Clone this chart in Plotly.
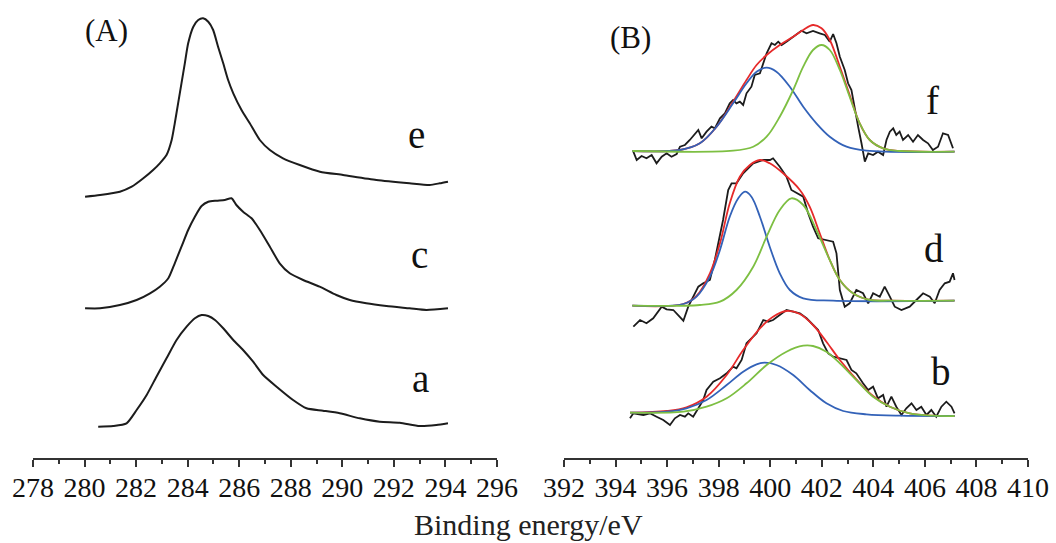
import plotly.graph_objects as go
from plotly.subplots import make_subplots

# ---------------- Panel A (C 1s) ----------------
e_x = [280.02, 280.60, 281.37, 281.83, 282.28, 282.66, 282.92, 283.18, 283.38, 283.50, 283.63, 283.76,
       283.89, 284.02, 284.22, 284.41, 284.60, 284.80, 284.99, 285.18, 285.38, 285.57, 285.77, 286.09,
       286.41, 286.80, 287.19, 287.70, 288.35, 289.13, 290.03, 291.32, 292.61, 293.39, 293.78, 294.10]
e_y = [261.3, 263, 266.3, 271.3, 279.7, 288, 294.7, 303, 318, 334.7, 354.7, 374.7,
       394.7, 414.7, 431.3, 438, 439.7, 436.3, 428, 411.3, 394.7, 378, 364.7, 348,
       334.7, 318, 308, 299.7, 293, 286.3, 283, 278, 274.7, 273, 274.7, 276.3]

c_x = [280.02, 280.60, 281.37, 282.02, 282.54, 282.92, 283.25, 283.50, 283.76, 284.02, 284.28, 284.54,
       284.80, 285.12, 285.44, 285.70, 285.89, 286.15, 286.48, 286.80, 287.19, 287.57, 287.96, 288.48,
       289.12, 289.77, 290.29, 290.93, 291.71, 292.61, 293.26, 294.10]
c_y = [149.7, 149.7, 153, 158, 164.7, 171.3, 179.7, 194.7, 211.3, 228, 241.3, 252,
       256.3, 257.3, 258, 259.7, 253, 246.3, 239.7, 228, 211.3, 194.7, 184.7, 178,
       171.3, 163, 158, 154.7, 152, 149.7, 148, 149.7]

a_x = [280.53, 281.11, 281.63, 282.02, 282.41, 282.79, 283.18, 283.57, 283.96, 284.28, 284.54, 284.80,
       285.06, 285.38, 285.77, 286.15, 286.54, 286.93, 287.45, 288.09, 288.61, 289.25, 289.90, 290.68,
       291.45, 292.23, 293.00, 293.65, 294.10]
a_y = [31.3, 32, 34.7, 48, 63, 81.3, 99.7, 118, 131.3, 139.7, 143, 142,
       138, 129.7, 118, 108, 96.3, 83, 71.3, 58, 49.7, 47.3, 44.7, 39.7,
       36.3, 35.3, 32, 33, 34.7]

# ---------------- Panel B (N 1s) ----------------
f_x = [394.69, 394.82, 395.01, 395.20, 395.40, 395.59, 395.79, 395.98, 396.17, 396.37, 396.50, 396.69,
       396.88, 397.08, 397.21, 397.34, 397.53, 397.72, 397.85, 398.05, 398.24, 398.43, 398.56, 398.69,
       398.82, 398.95, 399.08, 399.27, 399.40, 399.60, 399.73, 399.86, 400.05, 400.18, 400.31, 400.44,
       400.63, 400.82, 401.02, 401.21, 401.41, 401.66, 401.92, 402.12, 402.31, 402.44, 402.57, 402.70,
       402.89, 403.02, 403.15, 403.28, 403.41, 403.54, 403.67, 403.80, 403.99, 404.18, 404.38, 404.51,
       404.64, 404.77, 404.89, 405.02, 405.15, 405.35, 405.54, 405.73, 405.93, 406.12, 406.31, 406.51,
       406.70, 406.90, 407.09]
f_y = [306.3, 298, 302, 299.7, 303, 294.7, 301.3, 304.7, 301.3, 304, 311.3, 313,
       318, 324.7, 328, 319.7, 326.3, 331.3, 329.7, 339.7, 344.7, 354.7, 358, 354.7,
       356.3, 353, 364.7, 371.3, 383, 384.7, 394.7, 404.7, 414.7, 413, 416.3, 413,
       416.3, 419.7, 423, 427.3, 424.7, 427, 424.7, 423, 416.3, 424, 414.7, 401.3,
       388, 374.7, 368, 348, 331.3, 314.7, 296.3, 304.7, 303, 306.3, 303, 318,
       326.3, 329.7, 323, 326.3, 318, 323, 316.3, 323, 318, 314.7, 308, 311.3,
       324.7, 323, 309.7]
f_blue_x = [394.65, 396.50, 397.27, 397.92, 398.56, 399.08, 399.47, 399.86, 400.24, 400.76, 401.28, 401.79,
            402.31, 402.96, 403.73, 407.15]
f_blue_y = [307, 308, 314.7, 331.3, 354.7, 374.7, 386.3, 390.3, 386.3, 371.3, 351.3, 334.7,
            321.3, 311.3, 307.3, 306.3]
f_green_x = [394.65, 398.56, 399.34, 399.86, 400.37, 400.89, 401.28, 401.66, 401.99, 402.31, 402.70, 403.08,
             403.47, 403.86, 404.38, 405.02, 407.15]
f_green_y = [307, 307.3, 311.3, 321.3, 341.3, 368, 391.3, 408, 413, 408, 388, 361.3,
             334.7, 318, 309.7, 307, 306.3]
f_red_x = [394.65, 396.50, 397.27, 397.92, 398.56, 399.08, 399.47, 399.86, 400.37, 400.89, 401.28, 401.66,
           401.99, 402.31, 402.70, 403.08, 403.47, 403.86, 404.38, 405.02, 407.15]
f_red_y = [307, 308, 314.7, 331.3, 356.3, 378, 393, 403, 413, 421.3, 428, 433,
           429.7, 418, 391.3, 363, 334.7, 318, 309.7, 307, 306.3]

d_x = [394.69, 394.95, 395.20, 395.46, 395.79, 395.98, 396.24, 396.50, 396.63, 396.82, 397.01, 397.21,
       397.40, 397.66, 397.85, 398.05, 398.17, 398.37, 398.50, 398.69, 398.95, 399.34, 399.73, 399.99,
       400.11, 400.37, 400.63, 400.82, 401.02, 401.28, 401.47, 401.66, 401.86, 402.18, 402.44, 402.57,
       402.63, 402.70, 402.89, 403.08, 403.34, 403.60, 403.80, 403.99, 404.25, 404.44, 404.64, 404.83,
       405.09, 405.41, 405.67, 405.93, 406.19, 406.38, 406.57, 406.77, 406.96, 407.09, 407.15]
d_y = [131.3, 138, 134.7, 139.7, 151.3, 148.7, 148, 141.3, 137.3, 151.3, 161.3, 171.3,
       174.7, 178, 198, 221.3, 238, 268, 274.7, 274.7, 284.7, 294.7, 298, 298,
       299.7, 291.3, 281.3, 268, 264.7, 261.3, 244.7, 231.3, 219.7, 218, 216.3, 204.7,
       184.7, 168, 151.3, 154.7, 168, 164.7, 154.7, 164.7, 161.3, 171.3, 161.3, 151.3,
       148, 151.3, 158, 164.7, 161.3, 154.7, 168, 174.7, 176.3, 184.7, 178]
d_blue_x = [394.65, 396.63, 397.14, 397.66, 398.05, 398.43, 398.76, 399.02, 399.27, 399.60, 399.98, 400.37,
            400.76, 401.28, 402.44, 407.15]
d_blue_y = [152.3, 154, 161.3, 181.3, 208, 241.3, 259.7, 266.3, 261.3, 241.3, 211.3, 184.7,
            168, 159.7, 157.3, 157.3]
d_green_x = [394.65, 397.27, 398.05, 398.69, 399.34, 399.86, 400.37, 400.82, 401.28, 401.79, 402.31, 402.70,
             403.21, 403.86, 404.64, 407.15]
d_green_y = [152.3, 153, 156.3, 168, 191.3, 221.3, 248, 259.7, 253, 228, 198, 178,
             164.7, 158, 157.3, 157.3]
d_red_x = [394.65, 396.63, 397.14, 397.66, 398.05, 398.43, 398.82, 399.21, 399.60, 399.98, 400.50, 401.15,
           401.53, 401.92, 402.31, 402.70, 403.21, 403.86, 404.64, 407.15]
d_red_y = [152.3, 154, 162, 184.7, 214.7, 254.7, 281.3, 293, 298, 294.7, 284.7, 268,
           251.3, 224.7, 198, 178, 164.7, 158, 157.3, 157.3]

b_x = [394.56, 394.69, 395.08, 395.33, 395.59, 395.85, 396.11, 396.30, 396.50, 396.69, 396.82, 397.01,
       397.21, 397.40, 397.53, 397.79, 398.05, 398.31, 398.56, 398.69, 398.89, 399.08, 399.27, 399.47,
       399.73, 399.92, 400.11, 400.37, 400.63, 400.89, 401.15, 401.41, 401.66, 401.86, 402.05, 402.25,
       402.44, 402.70, 402.96, 403.15, 403.34, 403.60, 403.80, 403.99, 404.18, 404.38, 404.51, 404.70,
       404.89, 405.09, 405.28, 405.48, 405.67, 405.86, 406.06, 406.25, 406.44, 406.64, 406.83, 407.03,
       407.15]
b_y = [39.7, 44.7, 43, 44.7, 41.3, 38, 33, 39.7, 43, 41.3, 44.7, 41.3,
       49.7, 58, 68, 76.3, 79.7, 84.7, 91.3, 89.7, 98, 114.7, 119.7, 124.7,
       138, 136.3, 138, 143, 148, 146.3, 144.7, 139.7, 133, 128, 114.7, 104.7,
       101.3, 99.7, 98, 88, 84.7, 74.7, 68, 71.3, 59.7, 63, 51.3, 61.3,
       51.3, 43, 49.7, 54.7, 48, 51.3, 43, 48, 41.3, 51.3, 56.3, 51.3,
       44.7]
b_blue_x = [394.56, 395.98, 396.75, 397.53, 398.31, 398.95, 399.47, 399.79, 400.24, 400.89, 401.53, 402.18,
            402.83, 403.73, 405.02, 407.15]
b_blue_y = [45.3, 46.3, 49.7, 58, 73, 86.3, 93.7, 95.3, 93, 83, 68, 54.7,
            47, 43.7, 42.3, 42]
b_green_x = [394.56, 396.63, 397.53, 398.31, 399.08, 399.86, 400.63, 401.28, 401.66, 402.18, 402.70, 403.34,
             403.99, 404.64, 405.41, 406.31, 407.15]
b_green_y = [45.3, 46.3, 51.3, 59.7, 74.7, 93, 106.3, 112.3, 112, 106.3, 94.7, 78,
             61.3, 51.3, 44.7, 42.3, 42]
b_red_x = [394.56, 395.98, 396.75, 397.53, 398.31, 398.95, 399.60, 400.11, 400.63, 401.15, 401.66, 402.18,
           402.70, 403.34, 403.99, 404.64, 405.41, 406.31, 407.15]
b_red_y = [45.3, 47, 50.7, 61.3, 83, 108, 129.7, 141.3, 147, 144, 133, 116.3,
           98, 78.7, 62, 51.3, 44.7, 42.3, 42]

tick_vals_a = [278, 280, 282, 284, 286, 288, 290, 292, 294, 296]
tick_vals_b = [392, 394, 396, 398, 400, 402, 404, 406, 408, 410]

labels_a = ["e", "c", "a"]
labels_a_x = [292.88, 293.0, 293.04]
labels_a_y = [324, 204, 80]
labels_b = ["f", "d", "b"]
labels_b_x = [406.30, 406.34, 406.61]
labels_b_y = [358, 210, 87]

BLACK = "#1c1c1c"
RED = "#e62a2a"
BLUE = "#3362b8"
GREEN = "#7dbf42"
FONT = "Liberation Serif"

fig = make_subplots(rows=1, cols=2)

for xs, ys in [(e_x, e_y), (c_x, c_y), (a_x, a_y)]:
    fig.add_trace(go.Scatter(x=xs, y=ys, mode="lines",
                             line=dict(color=BLACK, width=2, shape="spline", smoothing=0.6),
                             showlegend=False, hoverinfo="skip"), row=1, col=1)

for raw, red, blue, green in [
    ((f_x, f_y), (f_red_x, f_red_y), (f_blue_x, f_blue_y), (f_green_x, f_green_y)),
    ((d_x, d_y), (d_red_x, d_red_y), (d_blue_x, d_blue_y), (d_green_x, d_green_y)),
    ((b_x, b_y), (b_red_x, b_red_y), (b_blue_x, b_blue_y), (b_green_x, b_green_y)),
]:
    fig.add_trace(go.Scatter(x=raw[0], y=raw[1], mode="lines",
                             line=dict(color=BLACK, width=1.8),
                             showlegend=False, hoverinfo="skip"), row=1, col=2)
    for (xs, ys), col in [(red, RED), (blue, BLUE), (green, GREEN)]:
        fig.add_trace(go.Scatter(x=xs, y=ys, mode="lines",
                                 line=dict(color=col, width=1.8, shape="spline", smoothing=1.0),
                                 showlegend=False, hoverinfo="skip"), row=1, col=2)

axis_common = dict(
    showline=True, linecolor="#333333", linewidth=1.5, mirror=False,
    ticks="outside", ticklen=7, tickwidth=1.5, tickcolor="#333333",
    showgrid=False, zeroline=False, automargin=False, tickangle=0,
    ticklabelstandoff=-3,
    tickfont=dict(family=FONT, size=28, color="#111111"),
    minor=dict(ticks="outside", ticklen=4, tickwidth=1.5, tickcolor="#333333", dtick=1, showgrid=False),
)
fig.update_xaxes(range=[278, 296], tickvals=tick_vals_a, domain=[0.03125, 0.4706], row=1, col=1, **axis_common)
fig.update_xaxes(range=[392, 410], tickvals=tick_vals_b, domain=[0.5341, 0.9735], row=1, col=2, **axis_common)
fig.update_yaxes(range=[0, 458], visible=False, showgrid=False, zeroline=False, automargin=False)

for t, x, y in zip(labels_a, labels_a_x, labels_a_y):
    fig.add_annotation(x=x, y=y, xref="x", yref="y", text=t, showarrow=False,
                       xanchor="center", yanchor="middle",
                       font=dict(family=FONT, size=39, color="#111111"))
for t, x, y in zip(labels_b, labels_b_x, labels_b_y):
    fig.add_annotation(x=x, y=y, xref="x2", yref="y2", text=t, showarrow=False,
                       xanchor="center", yanchor="middle",
                       font=dict(family=FONT, size=39, color="#111111"))

fig.add_annotation(x=106 / 1056, y=(458 - 31) / 458, xref="paper", yref="paper", text="(A)",
                   showarrow=False, xanchor="center", yanchor="middle",
                   font=dict(family=FONT, size=31, color="#111111"))
fig.add_annotation(x=630 / 1056, y=(458 - 38) / 458, xref="paper", yref="paper", text="(B)",
                   showarrow=False, xanchor="center", yanchor="middle",
                   font=dict(family=FONT, size=31, color="#111111"))
fig.add_annotation(x=528 / 1056, y=(458 - 524) / 458, xref="paper", yref="paper",
                   text="Binding energy/eV", showarrow=False, xanchor="center", yanchor="middle",
                   font=dict(family=FONT, size=30, color="#222222"))

fig.update_layout(width=1056, height=543, margin=dict(l=0, r=0, t=0, b=85, autoexpand=False),
                  plot_bgcolor="white", paper_bgcolor="white",
                  font=dict(family=FONT))

fig.write_html("out.html")
